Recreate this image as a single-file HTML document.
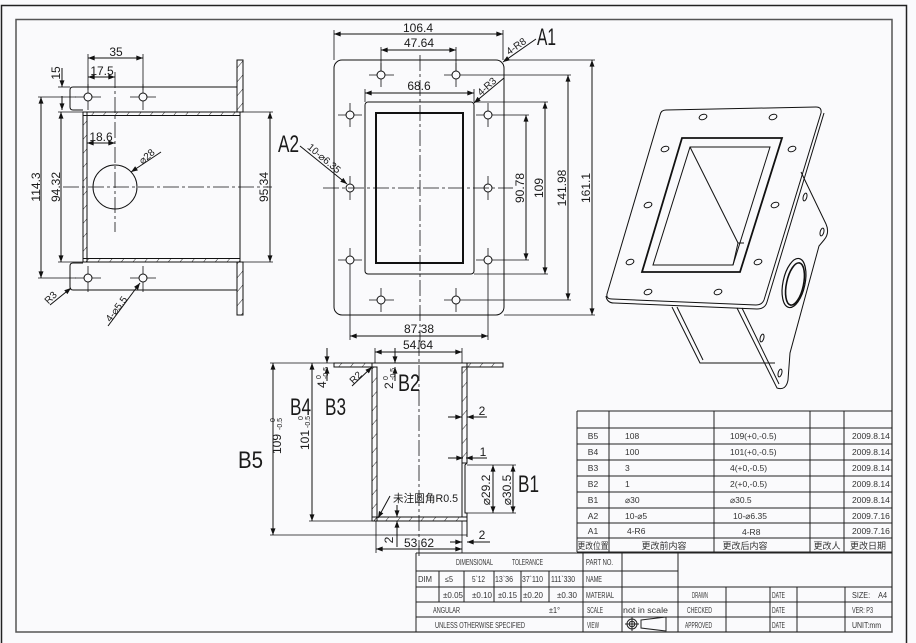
<!DOCTYPE html>
<html><head><meta charset="utf-8"><style>
html,body{margin:0;padding:0;background:#fafafc;}
svg{display:block;}
text{font-family:"Liberation Sans Narrow","Liberation Sans","Noto Sans CJK SC",sans-serif;fill:#1a1a1a;}
.d{font-size:12px;}
.big{font-size:24px;font-family:"Liberation Sans Narrow","Liberation Sans",sans-serif;}
.t{font-size:8.5px;fill:#333;}
.tb{font-size:8px;fill:#333;}
.tc{font-size:9px;fill:#333;font-family:"Liberation Sans","Noto Sans CJK SC",sans-serif;}
</style></head><body>
<svg width="916" height="643" viewBox="0 0 916 643" xmlns="http://www.w3.org/2000/svg">
<defs>
<marker id="a" viewBox="0 0 8 6" refX="8" refY="3" markerWidth="7" markerHeight="5" orient="auto-start-reverse" markerUnits="userSpaceOnUse"><path d="M0,0L8,3L0,6z" fill="#111"/></marker>
<pattern id="h" patternUnits="userSpaceOnUse" width="9" height="9" patternTransform="rotate(40)"><line x1="0" y1="0" x2="0" y2="9" stroke="#111" stroke-width="0.9"/></pattern>
</defs>
<rect width="916" height="643" fill="#fafafc"/>

<!-- frames -->
<rect x="1.5" y="5.5" width="905" height="645" fill="none" stroke="#222" stroke-width="1.5"/>
<rect x="16" y="19.5" width="876" height="612.5" fill="none" stroke="#555" stroke-width="1.5"/>

<!-- ============ LEFT VIEW ============ -->
<g fill="none" stroke="#111" stroke-width="1">
  <rect x="237" y="60" width="6" height="52" fill="url(#h)"/>
  <rect x="237" y="262" width="6" height="53" fill="url(#h)"/>
  <line x1="240" y1="112" x2="240" y2="262"/>
  <rect x="83" y="112" width="157" height="3.5" fill="url(#h)"/>
  <rect x="83" y="258.5" width="157" height="3.5" fill="url(#h)"/>
  <rect x="83" y="112" width="4" height="150" fill="url(#h)"/>
  <path d="M237,87 L73,87 Q70,87 70,90 L70,107 Q70,110 73,110 L83,110"/>
  <path d="M237,290 L73,290 Q70,290 70,287 L70,266 Q70,263 73,263 L83,263"/>
  <circle cx="88" cy="97" r="4"/><circle cx="143" cy="97" r="4"/>
  <circle cx="88" cy="278" r="4"/><circle cx="143" cy="278" r="4"/>
  <g stroke-width="0.8">
    <path d="M75,97H84M92,97H101M130,97H139M147,97H156M88,84V93M88,101V110M143,84V93M143,101V110"/>
    <path d="M75,278H84M92,278H101M130,278H139M147,278H156M88,266V274M88,282V292M143,266V274M143,282V292"/>
  </g>
  <line x1="63" y1="187" x2="272" y2="187" stroke-dasharray="16 3 3 3" stroke-width="0.8"/>
  <line x1="115" y1="72" x2="115" y2="232" stroke-dasharray="16 3 3 3" stroke-width="0.8"/>
  <circle cx="115" cy="187" r="22"/>
  <line x1="88" y1="54" x2="88" y2="90" stroke-width="0.8"/>
  <line x1="143" y1="54" x2="143" y2="90" stroke-width="0.8"/>
  <line x1="88" y1="58" x2="143" y2="58" marker-start="url(#a)" marker-end="url(#a)"/>
  <line x1="88" y1="77" x2="115" y2="77" marker-start="url(#a)" marker-end="url(#a)"/>
  <line x1="87" y1="143" x2="115" y2="143" marker-start="url(#a)" marker-end="url(#a)"/>
  <line x1="58" y1="87" x2="70" y2="87" stroke-width="0.8"/>
  <line x1="62" y1="68" x2="62" y2="87" marker-end="url(#a)"/>
  <line x1="62" y1="110" x2="62" y2="96" marker-start="url(#a)"/>
  <line x1="58" y1="112" x2="83" y2="112" stroke-width="0.8"/>
  <line x1="58" y1="262" x2="83" y2="262" stroke-width="0.8"/>
  <line x1="61" y1="112" x2="61" y2="262" marker-start="url(#a)" marker-end="url(#a)"/>
  <line x1="38" y1="97" x2="76" y2="97" stroke-width="0.8"/>
  <line x1="38" y1="278" x2="76" y2="278" stroke-width="0.8"/>
  <line x1="41" y1="97" x2="41" y2="278" marker-start="url(#a)" marker-end="url(#a)"/>
  <line x1="243" y1="112" x2="273" y2="112" stroke-width="0.8"/>
  <line x1="243" y1="262" x2="273" y2="262" stroke-width="0.8"/>
  <line x1="270" y1="112" x2="270" y2="262" marker-start="url(#a)" marker-end="url(#a)"/>
  <line x1="161" y1="152" x2="131" y2="172" marker-end="url(#a)"/>
  <line x1="50" y1="305" x2="71" y2="288" marker-end="url(#a)"/>
  <line x1="108" y1="326" x2="140" y2="283" marker-end="url(#a)"/>
</g>
<text class="d" x="116" y="56" text-anchor="middle">35</text>
<text class="d" x="102" y="75" text-anchor="middle">17.5</text>
<text class="d" x="101" y="141" text-anchor="middle">18.6</text>
<text class="d" transform="translate(60,73) rotate(-90)" text-anchor="middle">15</text>
<text class="d" transform="translate(40,187) rotate(-90)" text-anchor="middle">114.3</text>
<text class="d" transform="translate(60,187) rotate(-90)" text-anchor="middle">94.32</text>
<text class="d" transform="translate(268,187) rotate(-90)" text-anchor="middle">95.34</text>
<text class="d" transform="translate(149,159) rotate(-41)" text-anchor="middle" style="font-size:10px">⌀28</text>
<text class="d" transform="translate(53,300) rotate(-45)" text-anchor="middle" style="font-size:10px">R3</text>
<text class="d" transform="translate(119,311) rotate(-53)" text-anchor="middle" style="font-size:10px">4-⌀5.5</text>

<!-- ============ FRONT VIEW ============ -->
<g fill="none" stroke="#111" stroke-width="1">
  <rect x="334" y="60" width="170" height="255" rx="8"/>
  <rect x="365" y="102" width="109" height="172" rx="3"/>
  <rect x="376" y="113" width="87" height="150" stroke-width="2"/>
  <line x1="420" y1="55" x2="420" y2="342" stroke-dasharray="16 3 3 3" stroke-width="0.8"/>
  <line x1="323" y1="188" x2="513" y2="188" stroke-dasharray="16 3 3 3" stroke-width="0.8"/>
  <g>
    <circle cx="381" cy="75" r="4"/><circle cx="456" cy="75" r="4"/>
    <circle cx="350" cy="115" r="4"/><circle cx="488" cy="115" r="4"/>
    <circle cx="350" cy="188" r="4"/><circle cx="488" cy="188" r="4"/>
    <circle cx="350" cy="260" r="4"/><circle cx="488" cy="260" r="4"/>
    <circle cx="381" cy="300" r="4"/><circle cx="456" cy="300" r="4"/>
  </g>
  <g stroke-width="0.8">
    <path d="M369,75H377M385,75H394M381,63V71M381,79V87"/>
    <path d="M444,75H452M460,75H571M456,63V71M456,79V87"/>
    <path d="M338,115H346M354,115H362M350,103V111M350,119V127"/>
    <path d="M476,115H484M492,115H529M488,103V111M488,119V127"/>
    <path d="M338,260H346M354,260H362M350,248V256M350,264V340"/>
    <path d="M476,260H484M492,260H529M488,248V256M488,264V340"/>
    <path d="M369,300H377M385,300H394M381,288V296M381,304V312"/>
    <path d="M444,300H452M460,300H571M456,288V296M456,304V312"/>
    <path d="M350,176V184M350,192V200M488,176V184M488,192V200"/>
    <path d="M381,47V71M456,47V71"/>
    <path d="M334,30V60M503,30V60"/>
    <path d="M365,89V102M474,89V102"/>
    <path d="M474,102H548M474,274H548"/>
    <path d="M504,60H595M504,315H595"/>
  </g>
  <line x1="334" y1="34" x2="503" y2="34" marker-start="url(#a)" marker-end="url(#a)"/>
  <line x1="381" y1="50" x2="456" y2="50" marker-start="url(#a)" marker-end="url(#a)"/>
  <line x1="365" y1="93" x2="474" y2="93" marker-start="url(#a)" marker-end="url(#a)"/>
  <line x1="350" y1="336" x2="488" y2="336" marker-start="url(#a)" marker-end="url(#a)"/>
  <line x1="526" y1="115" x2="526" y2="260" marker-start="url(#a)" marker-end="url(#a)"/>
  <line x1="545" y1="102" x2="545" y2="274" marker-start="url(#a)" marker-end="url(#a)"/>
  <line x1="568" y1="75" x2="568" y2="300" marker-start="url(#a)" marker-end="url(#a)"/>
  <line x1="592" y1="60" x2="592" y2="315" marker-start="url(#a)" marker-end="url(#a)"/>
  <line x1="536" y1="39" x2="503" y2="62" marker-end="url(#a)"/>
  <line x1="504" y1="78" x2="474" y2="103" marker-end="url(#a)"/>
  <line x1="300" y1="146" x2="347" y2="184" marker-end="url(#a)"/>
</g>
<text class="d" x="418" y="32" text-anchor="middle">106.4</text>
<text class="d" x="419" y="47" text-anchor="middle">47.64</text>
<text class="d" x="419" y="90" text-anchor="middle">68.6</text>
<text class="d" x="419" y="333" text-anchor="middle">87.38</text>
<text class="d" transform="translate(524,188) rotate(-90)" text-anchor="middle">90.78</text>
<text class="d" transform="translate(543,188) rotate(-90)" text-anchor="middle">109</text>
<text class="d" transform="translate(566,188) rotate(-90)" text-anchor="middle">141.98</text>
<text class="d" transform="translate(590,188) rotate(-90)" text-anchor="middle">161.1</text>
<text class="d" transform="translate(518,49) rotate(-35)" text-anchor="middle" style="font-size:10px">4-R8</text>
<text class="d" transform="translate(489,89) rotate(-42)" text-anchor="middle" style="font-size:10px">4-R3</text>
<text class="d" transform="translate(322,161) rotate(40)" text-anchor="middle" style="font-size:10px">10-⌀6.35</text>
<text class="big" x="537" y="45" textLength="19" lengthAdjust="spacingAndGlyphs">A1</text>
<text class="big" x="278" y="152" textLength="21" lengthAdjust="spacingAndGlyphs">A2</text>

<!-- ============ SECTION VIEW ============ -->
<g fill="none" stroke="#111" stroke-width="1">
  <line x1="334" y1="363" x2="503" y2="363"/>
  <rect x="334" y="363" width="38" height="4" fill="url(#h)"/>
  <rect x="467" y="363" width="36" height="4" fill="url(#h)"/>
  <rect x="372" y="367" width="5" height="154" fill="url(#h)"/>
  <rect x="372" y="517" width="95" height="4" fill="url(#h)"/>
  <rect x="462" y="367" width="5" height="96" fill="url(#h)"/>
  <path d="M462,463 L462,517 M467,463 L465,465 L465,513 L467,513 L467,537"/>
  <line x1="419" y1="340" x2="419" y2="556" stroke-dasharray="16 3 3 3" stroke-width="0.8"/>
  <g stroke-width="0.8">
    <path d="M270,363H334M309,521H372M270,535H467"/>
    <path d="M375,348V363M462,348V363"/>
    <path d="M467,465H516M467,513H516"/>
    <path d="M376,521V553M462,521V553"/>
  </g>
  <line x1="273" y1="363" x2="273" y2="535" marker-start="url(#a)" marker-end="url(#a)"/>
  <line x1="312" y1="363" x2="312" y2="521" marker-start="url(#a)" marker-end="url(#a)"/>
  <line x1="375" y1="352" x2="462" y2="352" marker-start="url(#a)" marker-end="url(#a)"/>
  <line x1="327" y1="348" x2="327" y2="363" marker-end="url(#a)"/>
  <line x1="327" y1="381" x2="327" y2="367" marker-end="url(#a)"/>
  <line x1="395" y1="348" x2="395" y2="363" marker-end="url(#a)"/>
  <line x1="395" y1="381" x2="395" y2="367" marker-end="url(#a)"/>
  <line x1="352" y1="386" x2="372" y2="367" marker-end="url(#a)"/>
  <line x1="448" y1="417" x2="462" y2="417" marker-end="url(#a)"/>
  <line x1="487" y1="417" x2="467" y2="417" marker-end="url(#a)"/>
  <line x1="448" y1="458" x2="463" y2="458" marker-end="url(#a)"/>
  <line x1="487" y1="458" x2="466" y2="458" marker-end="url(#a)"/>
  <line x1="493" y1="465" x2="493" y2="513" marker-start="url(#a)" marker-end="url(#a)"/>
  <line x1="513" y1="465" x2="513" y2="513" marker-start="url(#a)" marker-end="url(#a)"/>
  <line x1="390" y1="496" x2="378" y2="518" marker-end="url(#a)"/>
  <line x1="397" y1="505" x2="397" y2="517" marker-end="url(#a)"/>
  <line x1="397" y1="547" x2="397" y2="521" marker-end="url(#a)"/>
  <line x1="376" y1="549" x2="462" y2="549" marker-start="url(#a)" marker-end="url(#a)"/>
  <line x1="450" y1="542" x2="462" y2="542" marker-end="url(#a)"/>
  <line x1="490" y1="542" x2="467" y2="542" marker-end="url(#a)"/>
</g>
<text class="d" x="418" y="349" text-anchor="middle">54.64</text>
<text class="d" transform="translate(281,444) rotate(-90)" text-anchor="middle">109</text>
<text class="d" transform="translate(275,422) rotate(-90)" style="font-size:7px">0</text>
<text class="d" transform="translate(282,430) rotate(-90)" style="font-size:7px">-0.5</text>
<text class="d" transform="translate(309,440) rotate(-90)" text-anchor="middle">101</text>
<text class="d" transform="translate(303,420) rotate(-90)" style="font-size:7px">0</text>
<text class="d" transform="translate(310,428) rotate(-90)" style="font-size:7px">-0.5</text>
<text class="d" transform="translate(326,388) rotate(-90)">4</text>
<text class="d" transform="translate(321,379) rotate(-90)" style="font-size:7px">0</text>
<text class="d" transform="translate(328,379) rotate(-90)" style="font-size:7px">-0.5</text>
<text class="d" transform="translate(393,389) rotate(-90)">2</text>
<text class="d" transform="translate(388,380) rotate(-90)" style="font-size:7px">0</text>
<text class="d" transform="translate(395,380) rotate(-90)" style="font-size:7px">-0.5</text>
<text class="d" transform="translate(358,380) rotate(-45)" text-anchor="middle" style="font-size:10px">R2</text>
<text class="d" x="482" y="415" text-anchor="middle">2</text>
<text class="d" x="483" y="456" text-anchor="middle">1</text>
<text class="d" transform="translate(490,490) rotate(-90)" text-anchor="middle">⌀29.2</text>
<text class="d" transform="translate(511,490) rotate(-90)" text-anchor="middle">⌀30.5</text>
<text x="393" y="502" textLength="65" lengthAdjust="spacingAndGlyphs" style="font-size:11px;font-family:'Liberation Sans','Noto Sans CJK SC',sans-serif">未注圆角R0.5</text>
<text class="d" transform="translate(393,540) rotate(-90)" text-anchor="middle">2</text>
<text class="d" x="419" y="547" text-anchor="middle">53.62</text>
<text class="d" x="482" y="539" text-anchor="middle">2</text>
<text class="big" x="238" y="468" textLength="25" lengthAdjust="spacingAndGlyphs">B5</text>
<text class="big" x="290" y="415" textLength="21" lengthAdjust="spacingAndGlyphs">B4</text>
<text class="big" x="325" y="415" textLength="21" lengthAdjust="spacingAndGlyphs">B3</text>
<text class="big" x="398" y="391" textLength="22" lengthAdjust="spacingAndGlyphs">B2</text>
<text class="big" x="518" y="492" textLength="21" lengthAdjust="spacingAndGlyphs">B1</text>

<!-- ============ ISOMETRIC ============ -->
<g fill="none" stroke="#111" stroke-width="1">
  <path d="M666,110 L816,107 Q822,107 821,113 L764,300 Q762,305 756,305 L612,299 Q606,299 607,294 L660,115 Q661,110 666,110 Z"/>
  <path d="M606,296 Q607,303 614,303 L757,309 Q765,309 767,302 L824,113"/>
  <path d="M682,138 L782,138 L740,272 L642,272 Z" stroke-width="1.8"/>
  <path d="M690,147 L770,147 L733,265 L653,265 Z"/>
  <path d="M690,147 L738,243 L733,265 M738,243 L744,243"/>
  <g stroke-width="1">
    <ellipse cx="703" cy="117" rx="4" ry="2.6" transform="rotate(-20 703 117)"/>
    <ellipse cx="773" cy="117" rx="4" ry="2.6" transform="rotate(-20 773 117)"/>
    <ellipse cx="665" cy="149" rx="4" ry="2.6" transform="rotate(-20 665 149)"/>
    <ellipse cx="792" cy="149" rx="4" ry="2.6" transform="rotate(-20 792 149)"/>
    <ellipse cx="648" cy="205" rx="4" ry="2.6" transform="rotate(-20 648 205)"/>
    <ellipse cx="775" cy="205" rx="4" ry="2.6" transform="rotate(-20 775 205)"/>
    <ellipse cx="630" cy="262" rx="4" ry="2.6" transform="rotate(-20 630 262)"/>
    <ellipse cx="758" cy="262" rx="4" ry="2.6" transform="rotate(-20 758 262)"/>
    <ellipse cx="648" cy="292" rx="4" ry="2.6" transform="rotate(-20 648 292)"/>
    <ellipse cx="718" cy="292" rx="4" ry="2.6" transform="rotate(-20 718 292)"/>
  </g>
  <path d="M801,172 L826,224 Q830,233 824,240 L819,246 L790,353 L788,380 Q786,391 777,388 L737,308"/>
  <path d="M742,308 L779,384"/>
  <path d="M672,307 L700,363 L775,363 M677,307 L703,360"/>
  <ellipse cx="794" cy="283" rx="11" ry="25" transform="rotate(12 794 283)" stroke-width="1.2"/>
  <ellipse cx="795" cy="284" rx="8.5" ry="21.5" transform="rotate(12 795 284)" stroke-width="1.6"/>
  <ellipse cx="805" cy="197" rx="1.8" ry="4" transform="rotate(15 805 197)"/>
  <ellipse cx="822" cy="232" rx="1.8" ry="4" transform="rotate(15 822 232)"/>
  <ellipse cx="762" cy="338" rx="1.8" ry="4" transform="rotate(15 762 338)"/>
  <ellipse cx="780" cy="373" rx="1.8" ry="4" transform="rotate(15 780 373)"/>
</g>

<!-- ============ REVISION TABLE ============ -->
<g fill="none" stroke="#222" stroke-width="1">
  <path d="M577,411H892M577,428H892M577,444H892M577,460H892M577,476H892M577,492H892M577,508H892M577,523H892M577,538H892M577,552H892"/>
  <path d="M577,411V552M609,411V552M714,411V552M810,411V552M844,411V552"/>
</g>
<g>
  <text class="t" x="593" y="439" text-anchor="middle">B5</text><text class="t" x="625" y="439">108</text><text class="t" x="730" y="439">109(+0,-0.5)</text><text class="t" x="852" y="439">2009.8.14</text>
  <text class="t" x="593" y="455" text-anchor="middle">B4</text><text class="t" x="625" y="455">100</text><text class="t" x="730" y="455">101(+0,-0.5)</text><text class="t" x="852" y="455">2009.8.14</text>
  <text class="t" x="593" y="471" text-anchor="middle">B3</text><text class="t" x="625" y="471">3</text><text class="t" x="730" y="471">4(+0,-0.5)</text><text class="t" x="852" y="471">2009.8.14</text>
  <text class="t" x="593" y="487" text-anchor="middle">B2</text><text class="t" x="625" y="487">1</text><text class="t" x="730" y="487">2(+0,-0.5)</text><text class="t" x="852" y="487">2009.8.14</text>
  <text class="t" x="593" y="503" text-anchor="middle">B1</text><text class="t" x="625" y="503">⌀30</text><text class="t" x="730" y="503">⌀30.5</text><text class="t" x="852" y="503">2009.8.14</text>
  <text class="t" x="593" y="519" text-anchor="middle">A2</text><text class="t" x="625" y="519">10-⌀5</text><text class="t" x="733" y="519">10-⌀6.35</text><text class="t" x="852" y="519">2009.7.16</text>
  <text class="t" x="593" y="534" text-anchor="middle">A1</text><text class="t" x="627" y="534">4-R6</text><text class="t" x="742" y="535">4-R8</text><text class="t" x="852" y="534">2009.7.16</text>
</g>
<text class="tc" x="593" y="549" text-anchor="middle" textLength="31" lengthAdjust="spacingAndGlyphs">更改位置</text>
<text class="tc" x="664" y="549" text-anchor="middle">更改前内容</text>
<text class="tc" x="745" y="549" text-anchor="middle">更改后内容</text>
<text class="tc" x="827" y="549" text-anchor="middle">更改人</text>
<text class="tc" x="868" y="549" text-anchor="middle">更改日期</text>

<!-- ============ TITLE BLOCK ============ -->
<g fill="none" stroke="#222" stroke-width="1">
  <path d="M416,553H892M416,571H678M416,587H892M416,602H892M416,617H892"/>
  <path d="M416,553V632M583,553V632M622,553V632M678,553V632"/>
  <path d="M439,571V602M464,571V602M494,571V602M521,571V602M549,571V602"/>
  <path d="M726,587V632M770,587V632M797,587V632M845,587V632"/>
  <circle cx="632" cy="624" r="5"/><circle cx="632" cy="624" r="2.8"/>
  <path d="M625,624H639M632,617V631"/>
  <path d="M641,620 L666,617 L666,631 L641,628 Z"/>
</g>
<g>
  <text class="tb" x="456" y="565" textLength="37" lengthAdjust="spacingAndGlyphs">DIMENSIONAL</text>
  <text class="tb" x="512" y="565" textLength="31" lengthAdjust="spacingAndGlyphs">TOLERANCE</text>
  <text class="tb" x="586" y="565" textLength="27" lengthAdjust="spacingAndGlyphs">PART NO.</text>
  <text class="tb" x="418" y="582" textLength="14" lengthAdjust="spacingAndGlyphs">DIM</text>
  <text class="tb" x="445" y="582" textLength="8" lengthAdjust="spacingAndGlyphs">≤5</text>
  <text class="tb" x="472" y="582" textLength="13" lengthAdjust="spacingAndGlyphs">5`12</text>
  <text class="tb" x="495" y="582" textLength="18" lengthAdjust="spacingAndGlyphs">13`36</text>
  <text class="tb" x="522" y="582" textLength="21" lengthAdjust="spacingAndGlyphs">37`110</text>
  <text class="tb" x="551" y="582" textLength="24" lengthAdjust="spacingAndGlyphs">111`330</text>
  <text class="tb" x="586" y="582" textLength="16" lengthAdjust="spacingAndGlyphs">NAME</text>
  <text class="tb" x="443" y="598" textLength="20" lengthAdjust="spacingAndGlyphs">±0.05</text>
  <text class="tb" x="472" y="598" textLength="20" lengthAdjust="spacingAndGlyphs">±0.10</text>
  <text class="tb" x="498" y="598" textLength="19" lengthAdjust="spacingAndGlyphs">±0.15</text>
  <text class="tb" x="523" y="598" textLength="20" lengthAdjust="spacingAndGlyphs">±0.20</text>
  <text class="tb" x="557" y="598" textLength="20" lengthAdjust="spacingAndGlyphs">±0.30</text>
  <text class="tb" x="586" y="598" textLength="28" lengthAdjust="spacingAndGlyphs">MATERIAL</text>
  <text class="tb" x="433" y="613" textLength="27" lengthAdjust="spacingAndGlyphs">ANGULAR</text>
  <text class="tb" x="549" y="613" textLength="11" lengthAdjust="spacingAndGlyphs">±1°</text>
  <text class="tb" x="587" y="613" textLength="16" lengthAdjust="spacingAndGlyphs">SCALE</text>
  <text class="tb" x="623" y="613" textLength="45" lengthAdjust="spacingAndGlyphs">not in scale</text>
  <text class="tb" x="435" y="628" textLength="90" lengthAdjust="spacingAndGlyphs">UNLESS OTHERWISE SPECIFIED</text>
  <text class="tb" x="587" y="628" textLength="12" lengthAdjust="spacingAndGlyphs">VIEW</text>
  <text class="tb" x="692" y="598" textLength="16" lengthAdjust="spacingAndGlyphs">DRAWN</text>
  <text class="tb" x="687" y="613" textLength="25" lengthAdjust="spacingAndGlyphs">CHECKED</text>
  <text class="tb" x="685" y="628" textLength="27" lengthAdjust="spacingAndGlyphs">APPROVED</text>
  <text class="tb" x="772" y="598" textLength="13" lengthAdjust="spacingAndGlyphs">DATE</text>
  <text class="tb" x="772" y="613" textLength="13" lengthAdjust="spacingAndGlyphs">DATE</text>
  <text class="tb" x="772" y="628" textLength="13" lengthAdjust="spacingAndGlyphs">DATE</text>
  <text class="tb" x="852" y="598" textLength="35" lengthAdjust="spacingAndGlyphs">SIZE:&#160;&#160;&#160;&#160;A4</text>
  <text class="tb" x="852" y="613" textLength="21" lengthAdjust="spacingAndGlyphs">VER: P3</text>
  <text class="tb" x="852" y="628" textLength="29" lengthAdjust="spacingAndGlyphs">UNIT:mm</text>
</g>
</svg>
</body></html>
